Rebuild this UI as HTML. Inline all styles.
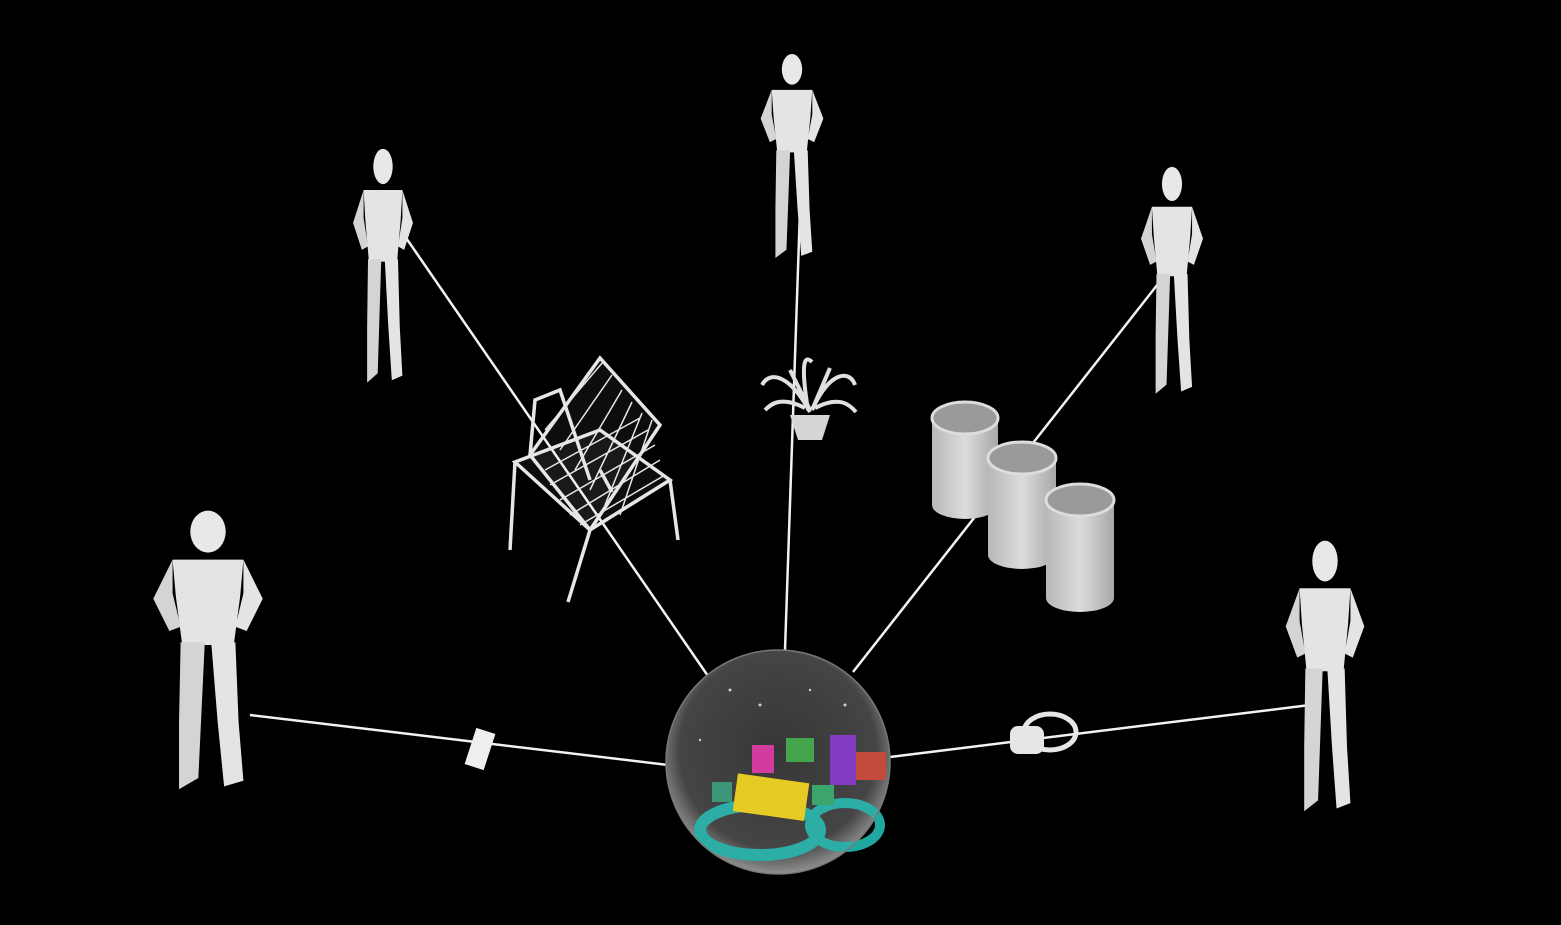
<!DOCTYPE html>
<html><head><meta charset="utf-8"><style>
html,body{margin:0;padding:0;background:#000;width:1561px;height:925px;overflow:hidden}
svg{display:block}
</style></head><body>
<svg id="scene" width="1561" height="925" viewBox="0 0 1561 925" xmlns="http://www.w3.org/2000/svg">
<defs>
<radialGradient id="sph" cx="50%" cy="45%" r="55%">
<stop offset="0" stop-color="#2a2a2a"/><stop offset="0.8" stop-color="#3a3a3a"/><stop offset="1" stop-color="#8a8a8a"/>
</radialGradient>
<linearGradient id="cyl" x1="0" x2="1"><stop offset="0" stop-color="#b8b8b8"/><stop offset="0.5" stop-color="#dcdcdc"/><stop offset="1" stop-color="#a8a8a8"/></linearGradient>
</defs>
<rect width="1561" height="925" fill="#000"/>
<g id="lines" stroke="#f2f2f2" stroke-width="2.5"></g>

<g stroke="#e6e6e6" stroke-width="3.5" fill="none">
<polygon points="530,455 600,358 660,425 590,530" fill="rgba(255,255,255,0.05)"/>
<path d="M545,430 L603,362 M560,450 L612,375 M575,470 L622,390 M590,490 L632,402 M605,505 L642,413 M620,515 L652,420 M545,470 L640,418 M550,485 L648,430 M560,500 L655,445 M570,515 L660,460 M580,525 L665,475" stroke-width="1.5"/>
<polygon points="515,462 590,530 670,480 600,430" fill="rgba(255,255,255,0.05)"/>
<path d="M515,462 L510,550 M590,530 L568,602 M670,480 L678,540 M600,470 L612,492 M530,455 L535,400 L560,390 L590,480"/>
</g>

<g>
<path d="M810,412 C790,375 770,370 762,385 M808,410 C800,360 805,355 812,362 M812,410 C830,370 850,370 855,385 M805,408 C780,395 770,405 765,410 M815,408 C840,395 850,405 856,412 M810,410 L790,370 M812,410 L830,368" stroke="#e0e0e0" stroke-width="4" fill="none"/>
<path d="M790,415 L830,415 L822,440 L798,440 Z" fill="#d6d6d6"/>
</g>

<g>
<path d="M932,418 L932,505 A33,14 0 0 0 998,505 L998,418 Z" fill="url(#cyl)"/><ellipse cx="965" cy="418" rx="33" ry="16" fill="#9a9a9a" stroke="#ddd" stroke-width="3"/>
<path d="M988,458 L988,555 A34,14 0 0 0 1056,555 L1056,458 Z" fill="url(#cyl)"/><ellipse cx="1022" cy="458" rx="34" ry="16" fill="#9a9a9a" stroke="#ddd" stroke-width="3"/>
<path d="M1046,500 L1046,598 A34,14 0 0 0 1114,598 L1114,500 Z" fill="url(#cyl)"/><ellipse cx="1080" cy="500" rx="34" ry="16" fill="#9a9a9a" stroke="#ddd" stroke-width="3"/>
</g>

<g id="people"></g>

<rect x="470" y="730" width="20" height="38" transform="rotate(18 480 749)" fill="#eee"/>
<g>
<ellipse cx="1050" cy="732" rx="26" ry="18" fill="none" stroke="#e6e6e6" stroke-width="5"/>
<rect x="1010" y="726" width="34" height="28" rx="8" fill="#e6e6e6"/>
</g>

<g>
<circle cx="778" cy="762" r="112" fill="url(#sph)"/>
<ellipse cx="760" cy="830" rx="60" ry="25" fill="none" stroke="#1fa8a0" stroke-width="12"/>
<ellipse cx="845" cy="825" rx="35" ry="22" fill="none" stroke="#1fa8a0" stroke-width="10"/>
<rect x="735" y="778" width="72" height="38" fill="#e6c818" transform="rotate(8 770 797)"/>
<rect x="830" y="735" width="26" height="50" fill="#7a30c0"/>
<rect x="786" y="738" width="28" height="24" fill="#3aa040"/>
<rect x="752" y="745" width="22" height="28" fill="#d03098"/>
<rect x="856" y="752" width="30" height="28" fill="#c04030"/>
<rect x="712" y="782" width="20" height="20" fill="#309070"/>
<rect x="812" y="785" width="22" height="20" fill="#30a060"/>
<g fill="#ccc"><circle cx="730" cy="690" r="1.5"/><circle cx="760" cy="705" r="1.5"/><circle cx="810" cy="690" r="1.2"/><circle cx="700" cy="740" r="1.2"/><circle cx="845" cy="705" r="1.5"/></g>
<circle cx="778" cy="762" r="112" fill="rgba(255,255,255,0.06)" stroke="#777" stroke-width="1.5"/>
</g>

<script>
const figures=[
 {name:'person-top',x:792,y:55,h:205,w:0.9},
 {name:'person-upper-left',x:383,y:150,h:235,w:0.75},
 {name:'person-upper-right',x:1172,y:168,h:228,w:0.8},
 {name:'person-left',x:208,y:512,h:280,w:1.15},
 {name:'person-right',x:1325,y:542,h:272,w:0.85}
];
const linkEnds=[[668,765,250,715],[708,676,402,232],[785,650,803,122],[853,672,1165,275],[890,757,1310,705]];
const NS='http://www.w3.org/2000/svg';
const lg=document.getElementById('lines');
linkEnds.forEach((l,i)=>{
 const ln=document.createElementNS(NS,'line');
 ln.setAttribute('x1',l[0]);ln.setAttribute('y1',l[1]);ln.setAttribute('x2',l[2]);ln.setAttribute('y2',l[3]);
 
 
 lg.appendChild(ln);
});
const pg=document.getElementById('people');
figures.forEach(f=>{
 const g=document.createElementNS(NS,'g');
 
 
 const s=f.h/200, w=f.w*s, x=f.x, y=f.y;
 const P=(pts)=>pts.map(p=>(x+p[0]*w)+','+(y+p[1]*s)).join(' ');
 const head=document.createElementNS(NS,'ellipse');
 head.setAttribute('cx',x);head.setAttribute('cy',y+14*s);head.setAttribute('rx',11*w);head.setAttribute('ry',15*s);
 head.setAttribute('fill','#e8e8e8');
 g.appendChild(head);
 const parts=[
  [[-22,34],[22,34],[20,60],[16,95],[-16,95],[-20,60]],
  [[-22,34],[-34,62],[-24,85],[-17,82],[-22,58]],
  [[22,34],[34,62],[24,85],[17,82],[22,58]],
  [[-17,93],[-2,93],[-6,190],[-18,198],[-18,150]],
  [[2,93],[17,93],[19,150],[22,192],[10,196],[6,150]]
 ];
 parts.forEach((pt,i)=>{
  const p=document.createElementNS(NS,'polygon');
  p.setAttribute('points',P(pt));
  p.setAttribute('fill',i%2?'#d4d4d4':'#e4e4e4');
  g.appendChild(p);
 });
 pg.appendChild(g);
});
</script>
</svg>
</body></html>
